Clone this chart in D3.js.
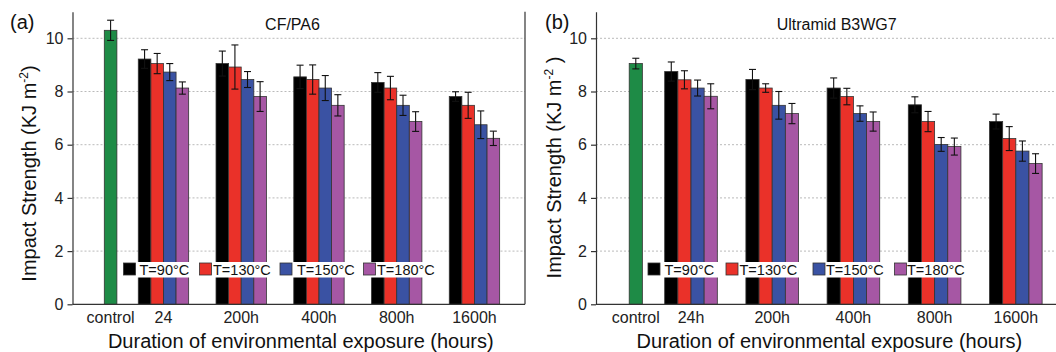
<!DOCTYPE html>
<html>
<head>
<meta charset="utf-8">
<script src="https://cdn.jsdelivr.net/npm/d3@7"></script>
<style>
  body { margin: 0; background: #fff; }
  svg { display: block; font-family: "Liberation Sans", Arial, Helvetica, sans-serif; }
</style>
</head>
<body>
<div id="chart"></div>
<script>
// series / categories
const seriesNames = ['T=90°C', 'T=130°C', 'T=150°C', 'T=180°C'];
const seriesColors = ['#000000', '#ea3129', '#3a52a3', '#a657a4'];
const controlColor = '#1e8b46';

const cfpa6Categories = ['24', '200h', '400h', '800h', '1600h'];
const cfpa6Control = [10.30, 0.38];   // mean, error
// rows: T=90, 130, 150, 180 ; columns: categories
const cfpa6Means = [
  [9.22, 9.05, 8.55, 8.34, 7.81],
  [9.05, 8.92, 8.45, 8.13, 7.48],
  [8.73, 8.45, 8.13, 7.48, 6.75],
  [8.13, 7.81, 7.48, 6.87, 6.24]
];
const cfpa6Errors = [
  [0.35, 0.47, 0.44, 0.37, 0.18],
  [0.38, 0.83, 0.55, 0.44, 0.49],
  [0.32, 0.30, 0.47, 0.38, 0.52],
  [0.23, 0.56, 0.40, 0.37, 0.27]
];

const b3wg7Categories = ['24h', '200h', '400h', '800h', '1600h'];
const b3wg7Control = [9.05, 0.20];
const b3wg7Means = [
  [8.75, 8.45, 8.13, 7.50, 6.87],
  [8.44, 8.13, 7.81, 6.87, 6.23],
  [8.13, 7.48, 7.17, 6.01, 5.76],
  [7.82, 7.17, 6.87, 5.93, 5.29]
];
const b3wg7Errors = [
  [0.36, 0.38, 0.38, 0.30, 0.28],
  [0.34, 0.16, 0.31, 0.38, 0.45],
  [0.30, 0.52, 0.29, 0.26, 0.38],
  [0.47, 0.38, 0.36, 0.32, 0.37]
];

const yTicks = [0, 2, 4, 6, 8, 10];

const W = 1056, H = 352;
const svg = d3.select('#chart').append('svg')
  .attr('width', W)
  .attr('height', H);

svg.append('rect').attr('width', W).attr('height', H).attr('fill', '#fff');

const y = d3.scaleLinear().domain([0, 11]).range([304.3, 11.7]);

function drawPanel(p) {
  const g = svg.append('g');
  const x = d3.scaleLinear().domain([-0.17, 5.65]).range([p.left, p.rangeEnd]);
  const barW = x(0.162) - x(0);
  const controlPos = 0.32;

  // gridlines
  g.selectAll('line.grid')
    .data(yTicks.filter(d => d > 0))
    .enter().append('line')
    .attr('class', 'grid')
    .attr('x1', p.left).attr('x2', p.right)
    .attr('y1', d => y(d)).attr('y2', d => y(d))
    .attr('stroke', '#a8a8a8')
    .attr('stroke-width', 0.8)
    .attr('stroke-dasharray', '2,2');

  // control bar
  g.append('rect')
    .attr('x', x(controlPos) - barW / 2)
    .attr('y', y(p.control[0]))
    .attr('width', barW)
    .attr('height', y(0) - y(p.control[0]))
    .attr('fill', controlColor)
    .attr('stroke', '#333')
    .attr('stroke-width', 0.8);

  // grouped bars
  const cells = [];
  p.means.forEach((row, s) => row.forEach((v, i) => {
    cells.push({ s: s, i: i, v: v, e: p.errors[s][i] });
  }));
  const cx = d => x(d.i + 1) + (d.s - 1.5) * barW;

  g.selectAll('rect.bar')
    .data(cells)
    .enter().append('rect')
    .attr('class', 'bar')
    .attr('x', d => cx(d) - barW / 2)
    .attr('y', d => y(d.v))
    .attr('width', barW)
    .attr('height', d => y(0) - y(d.v))
    .attr('fill', d => seriesColors[d.s])
    .attr('stroke', '#333')
    .attr('stroke-width', 0.8);

  // error bars
  const errs = cells.map(d => ({ x: cx(d), v: d.v, e: d.e }));
  errs.push({ x: x(controlPos), v: p.control[0], e: p.control[1] });
  const eg = g.selectAll('g.err').data(errs).enter().append('g')
    .attr('stroke', '#111').attr('stroke-width', 1.1);
  eg.append('line')
    .attr('x1', d => d.x).attr('x2', d => d.x)
    .attr('y1', d => y(d.v - d.e)).attr('y2', d => y(d.v + d.e));
  eg.append('line')
    .attr('x1', d => d.x - 3.5).attr('x2', d => d.x + 3.5)
    .attr('y1', d => y(d.v + d.e)).attr('y2', d => y(d.v + d.e));
  eg.append('line')
    .attr('x1', d => d.x - 3.5).attr('x2', d => d.x + 3.5)
    .attr('y1', d => y(d.v - d.e)).attr('y2', d => y(d.v - d.e));

  // y axis
  const yAxis = g.append('g')
    .attr('transform', `translate(${p.left},0)`)
    .call(d3.axisLeft(y).tickValues(yTicks).tickSize(5).tickSizeOuter(0).tickPadding(4));
  yAxis.select('.domain').attr('stroke', '#333').attr('stroke-width', 1.2);
  yAxis.selectAll('.tick line').attr('stroke', '#333').attr('stroke-width', 1.2);
  yAxis.selectAll('.tick text')
    .attr('font-size', 16).attr('fill', '#222')
    .attr('font-family', '"Liberation Sans", Arial, sans-serif');

  // bottom axis line
  g.append('line')
    .attr('x1', p.left).attr('x2', p.right)
    .attr('y1', y(0)).attr('y2', y(0))
    .attr('stroke', '#333').attr('stroke-width', 1.2);

  if (p.border) {
    g.append('line')
      .attr('x1', p.right).attr('x2', p.right)
      .attr('y1', y(11)).attr('y2', y(0))
      .attr('stroke', '#333').attr('stroke-width', 1.2);
  }

  // x tick labels
  const xLabels = [{ t: 'control', pos: controlPos }]
    .concat(p.categories.map((c, i) => ({ t: c, pos: i + 1 })));
  g.selectAll('text.xl')
    .data(xLabels)
    .enter().append('text')
    .attr('class', 'xl')
    .attr('x', d => x(d.pos))
    .attr('y', 323)
    .attr('text-anchor', 'middle')
    .attr('font-size', 16)
    .attr('fill', '#222')
    .text(d => d.t);

  // legend
  g.append('rect')
    .attr('x', p.legendBox[0]).attr('y', 262)
    .attr('width', p.legendBox[1] - p.legendBox[0]).attr('height', 15.5)
    .attr('fill', '#fff');
  seriesNames.forEach((n, s) => {
    g.append('rect')
      .attr('x', p.swatchX[s]).attr('y', 263)
      .attr('width', 12).attr('height', 12)
      .attr('fill', seriesColors[s])
      .attr('stroke', '#333').attr('stroke-width', 0.8);
    g.append('text')
      .attr('x', p.textX[s]).attr('y', 275)
      .attr('font-size', 14.5)
      .attr('fill', '#111')
      .text(n);
  });

  // panel letter and title
  g.append('text')
    .attr('x', p.letterX).attr('y', 29)
    .attr('font-size', 20).attr('fill', '#111')
    .text(p.letter);
  g.append('text')
    .attr('x', p.titleX).attr('y', 30)
    .attr('text-anchor', 'middle')
    .attr('font-size', 16).attr('fill', '#111')
    .text(p.title);

  // axis titles
  const yt = g.append('text')
    .attr('transform', `translate(${p.yTitleX},${p.yTitleY}) rotate(-90)`)
    .attr('text-anchor', 'middle')
    .attr('font-size', 20).attr('fill', '#111');
  yt.append('tspan').text('Impact Strength (KJ m');
  yt.append('tspan').attr('font-size', 12).attr('dy', -8).text('-2');
  yt.append('tspan').attr('dy', 8).text(p.closeParen);

  g.append('text')
    .attr('x', p.xTitleX).attr('y', 347.5)
    .attr('text-anchor', 'middle')
    .attr('font-size', 20).attr('fill', '#111')
    .text('Duration of environmental exposure (hours)');
}

drawPanel({
  left: 72.5, right: 525, rangeEnd: 525, border: true,
  categories: cfpa6Categories, control: cfpa6Control,
  means: cfpa6Means, errors: cfpa6Errors,
  swatchX: [123.5, 199.5, 280, 363.5], textX: [139.5, 213, 297, 377],
  legendBox: [122, 434],
  letter: '(a)', letterX: 10, title: 'CF/PA6', titleX: 292.5,
  yTitleX: 35.5, yTitleY: 173.5, closeParen: ')', xTitleX: 300.8
});

drawPanel({
  left: 596, right: 1056, rangeEnd: 1068.6, border: false,
  categories: b3wg7Categories, control: b3wg7Control,
  means: b3wg7Means, errors: b3wg7Errors,
  swatchX: [648, 726, 813, 894.5], textX: [664.5, 739.5, 826, 907],
  legendBox: [646, 966],
  letter: '(b)', letterX: 545, title: 'Ultramid B3WG7', titleX: 836.7,
  yTitleX: 561, yTitleY: 167.5, closeParen: ' )', xTitleX: 829.4
});
</script>
</body>
</html>
